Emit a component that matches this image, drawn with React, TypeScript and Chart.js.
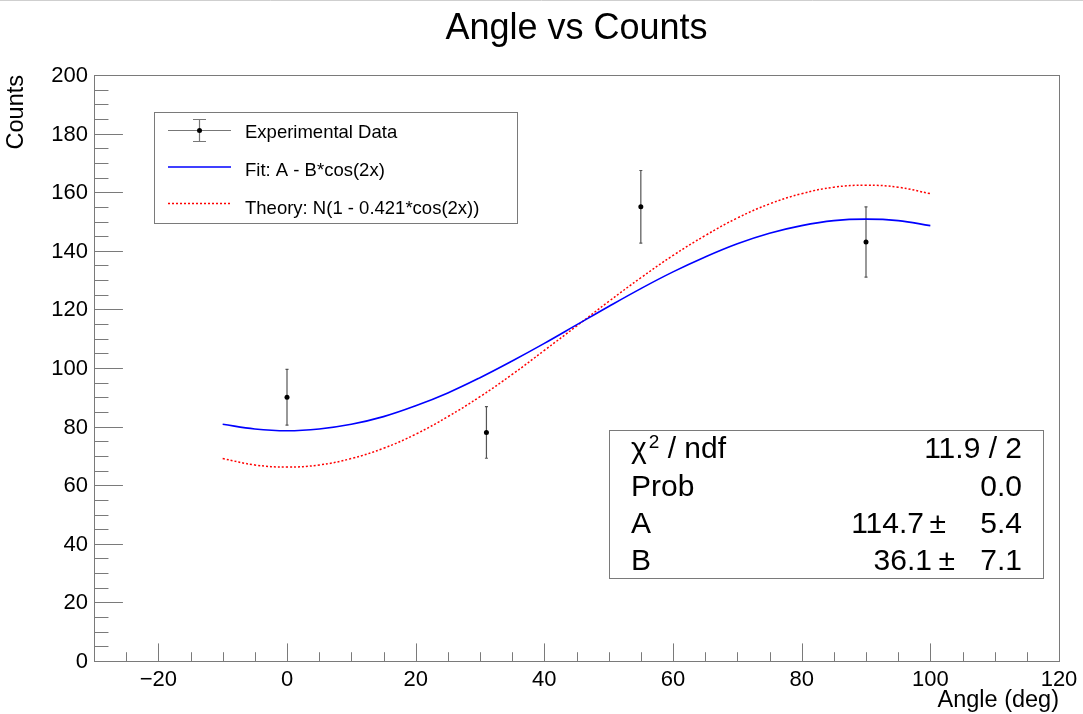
import React, { useEffect, useRef } from "react";
import { Chart, registerables } from "chart.js";

Chart.register(...registerables);

// ---- data ----
const dataAngles = [0, 31, 55, 90];
const dataCounts = [90, 78, 155, 143];
const dataErrors = [9.5, 8.8, 12.4, 12.0];

const curveAngles = [-10, -5, 0, 5, 10, 15, 20, 25, 30, 35, 40, 45, 50, 55, 60, 65, 70, 75, 80, 85, 90, 95, 100];
const fitCounts = [80.8, 79.2, 78.6, 79.2, 80.8, 83.4, 87.1, 91.5, 96.7, 102.4, 108.4, 114.7, 121.0, 127.1, 132.8, 137.9, 142.4, 146.0, 148.6, 150.3, 150.8, 150.3, 148.6];
const theoryCounts = [69.1, 66.9, 66.2, 66.9, 69.1, 72.6, 77.4, 83.4, 90.2, 97.8, 106.0, 114.3, 122.7, 130.8, 138.4, 145.2, 151.2, 156.0, 159.5, 161.7, 162.4, 161.7, 159.5];

const xTickValues = [-20, 0, 20, 40, 60, 80, 100, 120];
const yTickValues = [0, 20, 40, 60, 80, 100, 120, 140, 160, 180, 200];

const legendLabels = ["Experimental Data", "Fit: A - B*cos(2x)", "Theory: N(1 - 0.421*cos(2x))"];
const statsNames = ["χ", "Prob", "A", "B"];
const statsValues = ["11.9 / 2", "0.0", "114.7", "36.1"];
const statsErrors = ["", "", "5.4", "7.1"];

const FONT = "'Liberation Sans', Arial, Helvetica, sans-serif";

const decorPlugin = {
  id: "rootDecor",
  beforeDatasetsDraw(chart: any) {
    const ctx = chart.ctx;
    const xs = chart.scales.x;
    const ys = chart.scales.y;
    ctx.save();
    ctx.strokeStyle = "#555";
    ctx.lineWidth = 1.2;
    for (let i = 0; i < dataAngles.length; i++) {
      const px = xs.getPixelForValue(dataAngles[i]);
      const top = ys.getPixelForValue(dataCounts[i] + dataErrors[i]);
      const bot = ys.getPixelForValue(dataCounts[i] - dataErrors[i]);
      ctx.beginPath();
      ctx.moveTo(px, top);
      ctx.lineTo(px, bot);
      ctx.moveTo(px - 1.5, top);
      ctx.lineTo(px + 1.5, top);
      ctx.moveTo(px - 1.5, bot);
      ctx.lineTo(px + 1.5, bot);
      ctx.stroke();
    }
    ctx.restore();
  },
  afterDraw(chart: any) {
    const ctx = chart.ctx;
    const a = chart.chartArea;
    const xs = chart.scales.x;
    const ys = chart.scales.y;
    ctx.save();

    // top strip line
    ctx.strokeStyle = "#cfcfcf";
    ctx.lineWidth = 1;
    ctx.beginPath();
    ctx.moveTo(0, 0.5);
    ctx.lineTo(chart.width, 0.5);
    ctx.stroke();

    // frame
    ctx.strokeStyle = "#7a7a7a";
    ctx.lineWidth = 1;
    ctx.strokeRect(a.left + 0.5, a.top + 0.5, a.right - a.left, a.bottom - a.top);

    // ticks
    const yMajor = 0.03 * (a.right - a.left);
    const xMajor = 0.03 * (a.bottom - a.top);
    ctx.beginPath();
    for (let v = 0; v <= 200; v += 5) {
      const py = Math.round(ys.getPixelForValue(v)) + 0.5;
      const len = v % 20 === 0 ? yMajor : yMajor / 2;
      ctx.moveTo(a.left, py);
      ctx.lineTo(a.left + len, py);
    }
    for (let v = -25; v <= 115; v += 5) {
      const px = Math.round(xs.getPixelForValue(v)) + 0.5;
      const len = v % 20 === 0 ? xMajor : xMajor / 2;
      ctx.moveTo(px, a.bottom);
      ctx.lineTo(px, a.bottom - len);
    }
    ctx.stroke();

    // tick labels
    ctx.fillStyle = "#000";
    ctx.font = `22px ${FONT}`;
    ctx.textAlign = "right";
    ctx.textBaseline = "middle";
    for (const v of yTickValues) {
      ctx.fillText(String(v), a.left - 6, ys.getPixelForValue(v) + 1);
    }
    ctx.textAlign = "center";
    ctx.textBaseline = "alphabetic";
    for (const v of xTickValues) {
      const s = v < 0 ? "\u2212" + Math.abs(v) : String(v);
      ctx.fillText(s, xs.getPixelForValue(v), 686);
    }

    // axis titles
    ctx.font = `23.5px ${FONT}`;
    ctx.textAlign = "right";
    ctx.fillText("Angle (deg)", a.right, 707);
    ctx.save();
    ctx.translate(23, a.top);
    ctx.rotate(-Math.PI / 2);
    ctx.textAlign = "right";
    ctx.fillText("Counts", 0, 0);
    ctx.restore();

    // title
    ctx.font = `36px ${FONT}`;
    ctx.textAlign = "center";
    ctx.fillText("Angle vs Counts", (a.left + a.right) / 2, 39);

    // legend box
    ctx.fillStyle = "#fff";
    ctx.fillRect(154, 112, 363, 111);
    ctx.strokeStyle = "#7a7a7a";
    ctx.strokeRect(154.5, 112.5, 363, 111);
    // symbol 1: error bar
    ctx.strokeStyle = "#777";
    ctx.lineWidth = 1.2;
    ctx.beginPath();
    ctx.moveTo(168, 130.5);
    ctx.lineTo(231, 130.5);
    ctx.moveTo(199.5, 119);
    ctx.lineTo(199.5, 141);
    ctx.moveTo(193, 119.5);
    ctx.lineTo(206, 119.5);
    ctx.moveTo(193, 141.5);
    ctx.lineTo(206, 141.5);
    ctx.stroke();
    ctx.fillStyle = "#000";
    ctx.beginPath();
    ctx.arc(199.5, 130.5, 2.5, 0, Math.PI * 2);
    ctx.fill();
    // symbol 2: blue line
    ctx.strokeStyle = "#0000ff";
    ctx.lineWidth = 1.5;
    ctx.beginPath();
    ctx.moveTo(168, 167);
    ctx.lineTo(231, 167);
    ctx.stroke();
    // symbol 3: red dotted
    ctx.strokeStyle = "#ff0000";
    ctx.setLineDash([2, 2]);
    ctx.beginPath();
    ctx.moveTo(168, 203.5);
    ctx.lineTo(231, 203.5);
    ctx.stroke();
    ctx.setLineDash([]);
    ctx.fillStyle = "#000";
    ctx.font = `18.5px ${FONT}`;
    ctx.textAlign = "left";
    const lb = [138, 176, 214];
    legendLabels.forEach((t, i) => ctx.fillText(t, 245, lb[i]));

    // stats box
    ctx.fillStyle = "#fff";
    ctx.fillRect(609, 430, 434, 148);
    ctx.strokeStyle = "#7a7a7a";
    ctx.lineWidth = 1;
    ctx.strokeRect(609.5, 430.5, 434, 148);
    ctx.fillStyle = "#000";
    const sb = [458, 496, 533, 570];
    statsNames.forEach((t, i) => {
      ctx.textAlign = "left";
      ctx.font = `30px ${FONT}`;
      ctx.fillText(t, 631, sb[i]);
      if (i === 0) {
        const w = ctx.measureText(t).width;
        ctx.font = `19px ${FONT}`;
        ctx.fillText("2", 631 + w + 2, sb[i] - 10);
        const w2 = ctx.measureText("2").width;
        ctx.font = `30px ${FONT}`;
        ctx.fillText(" / ndf", 631 + w + 2 + w2, sb[i]);
      }
      ctx.textAlign = "right";
      if (statsErrors[i] === "") {
        ctx.fillText(statsValues[i], 1022, sb[i]);
      } else {
        ctx.fillText(statsErrors[i], 1022, sb[i]);
        const pmRight = i === 2 ? 946 : 955;
        const valRight = i === 2 ? 924 : 932;
        ctx.fillText("±", pmRight, sb[i]);
        ctx.fillText(statsValues[i], valRight, sb[i]);
      }
    });

    ctx.restore();
  },
};

export default function App() {
  const ref = useRef<HTMLCanvasElement | null>(null);
  useEffect(() => {
    if (!ref.current) return;
    const chart = new Chart(ref.current, {
      type: "scatter",
      data: {
        datasets: [
          {
            type: "line",
            label: legendLabels[1],
            data: curveAngles.map((x, i) => ({ x, y: fitCounts[i] })),
            borderColor: "#0000ff",
            borderWidth: 1.6,
            pointRadius: 0,
            tension: 0.4,
            fill: false,
          },
          {
            type: "line",
            label: legendLabels[2],
            data: curveAngles.map((x, i) => ({ x, y: theoryCounts[i] })),
            borderColor: "#ff0000",
            borderWidth: 1.5,
            borderDash: [2, 2],
            pointRadius: 0,
            tension: 0.4,
            fill: false,
          },
          {
            label: legendLabels[0],
            data: dataAngles.map((x, i) => ({ x, y: dataCounts[i] })),
            backgroundColor: "#000",
            borderColor: "#000",
            pointRadius: 2.5,
            pointBorderWidth: 0,
          },
        ],
      },
      options: {
        responsive: false,
        animation: false,
        layout: { padding: { left: 94, right: 24, top: 75, bottom: 53 } },
        plugins: { legend: { display: false }, tooltip: { enabled: false }, title: { display: false } },
        scales: {
          x: { type: "linear", min: -30, max: 120, display: false },
          y: { type: "linear", min: 0, max: 200, display: false },
        },
      },
      plugins: [decorPlugin],
    });
    return () => chart.destroy();
  }, []);
  return (
    <div style={{ position: "absolute", left: 0, top: 0, width: 1083, height: 714, background: "#fff" }}>
      <canvas ref={ref} width={1083} height={714} />
    </div>
  );
}
